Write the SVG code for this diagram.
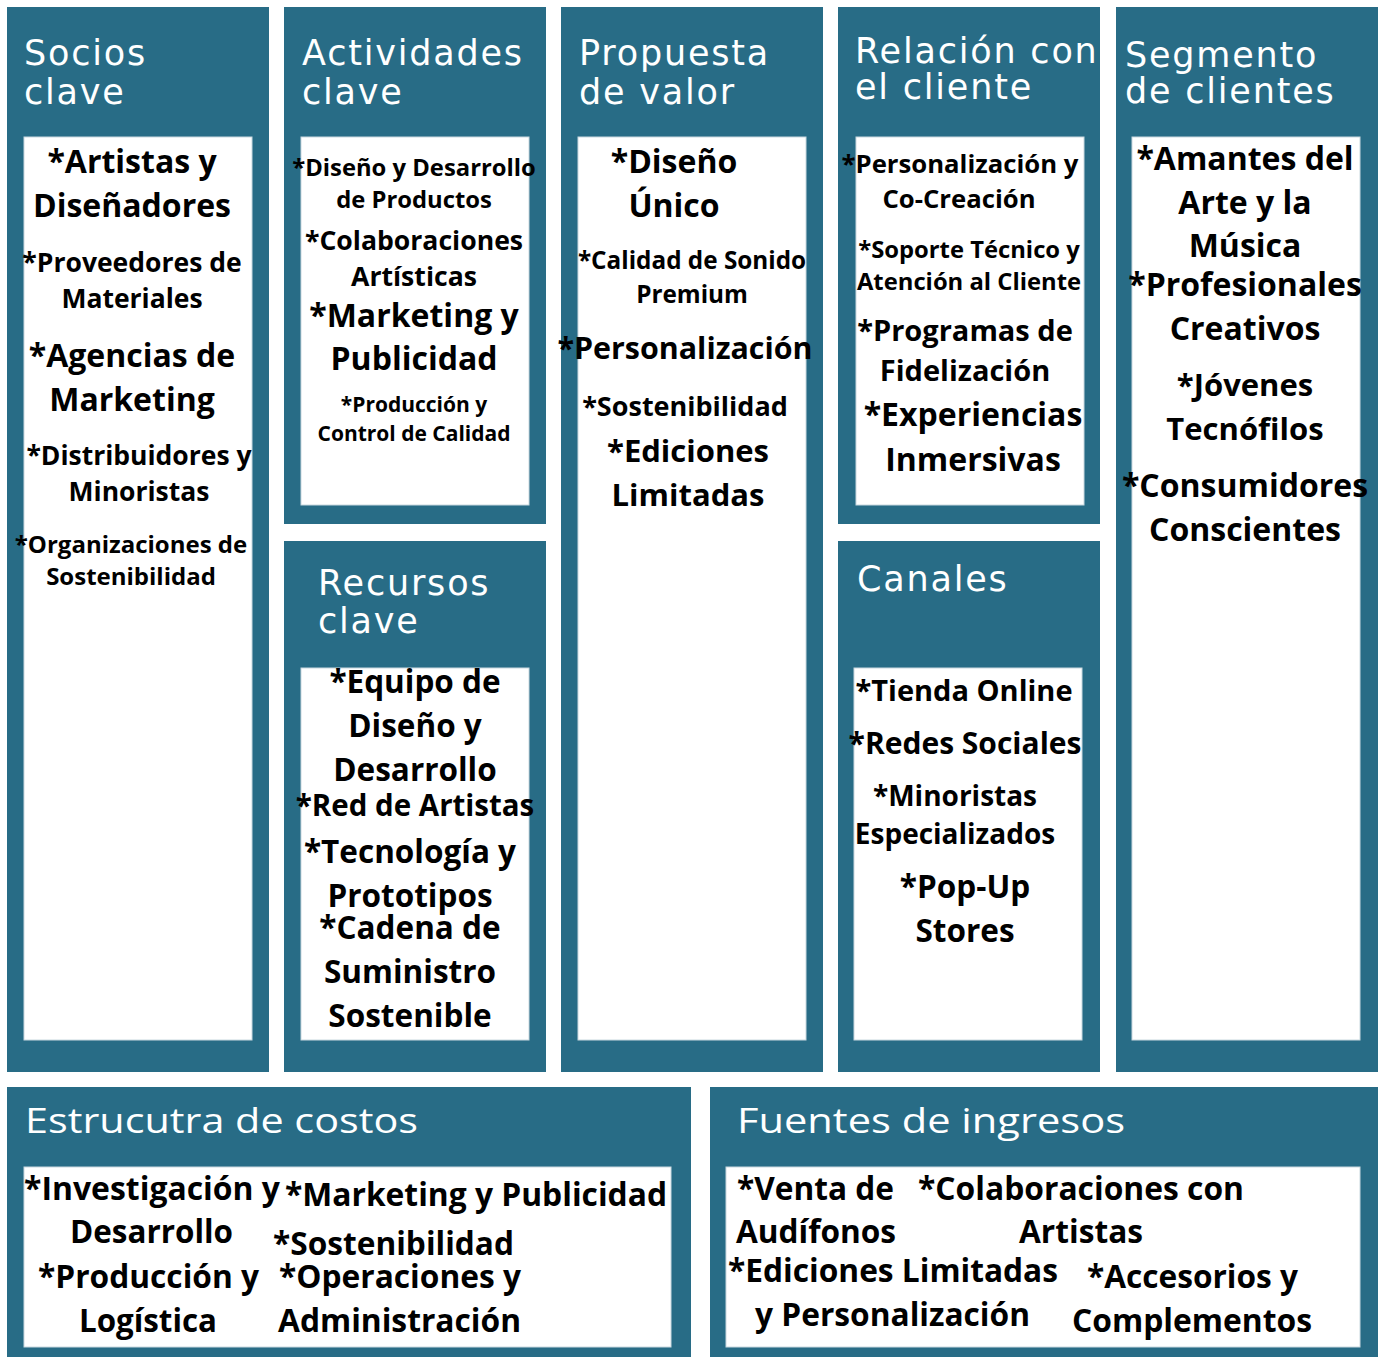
<svg xmlns="http://www.w3.org/2000/svg" width="1386" height="1357" viewBox="0 0 1386 1357">
<style>
.panel{fill:#286c86}
.inner{fill:#ffffff;stroke:#c9d8df;stroke-width:1}
.title{font-family:"DejaVu Sans","Liberation Sans",sans-serif;fill:#ffffff;font-size:35px;letter-spacing:1.8px}
.title2{font-family:"Open Sans","Noto Sans",sans-serif;fill:#ffffff;font-size:35px}
.t{font-family:"Open Sans","Noto Sans",sans-serif;font-weight:700;fill:#000000;text-anchor:middle}
.c{font-family:"Open Sans","Noto Sans",sans-serif;font-weight:700;fill:#000000}
</style>
<rect width="1386" height="1357" fill="#ffffff"/>

<g id="socios-clave">
<rect class="panel" x="7" y="7" width="262" height="1065"/>
<rect class="inner" x="24" y="137" width="228" height="903"/>
<text class="title" x="24" y="65">Socios</text>
<text class="title" x="24" y="104">clave</text>
<text class="t" x="132" y="173" font-size="32">*Artistas y</text>
<text class="t" x="132" y="217" font-size="32">Diseñadores</text>
<text class="t" x="132" y="272" font-size="26.5">*Proveedores de</text>
<text class="t" x="132" y="308" font-size="26.5">Materiales</text>
<text class="t" x="132" y="367" font-size="32">*Agencias de</text>
<text class="t" x="132" y="411" font-size="32">Marketing</text>
<text class="t" x="139" y="465" font-size="26.5">*Distribuidores y</text>
<text class="t" x="139" y="501" font-size="26.5">Minoristas</text>
<text class="t" x="131" y="553" font-size="24">*Organizaciones de</text>
<text class="t" x="131" y="585" font-size="24">Sostenibilidad</text>
</g>

<g id="actividades-clave">
<rect class="panel" x="284" y="7" width="262" height="517"/>
<rect class="inner" x="301" y="137" width="228" height="368"/>
<text class="title" x="302" y="65">Actividades</text>
<text class="title" x="302" y="104">clave</text>
<text class="t" x="414" y="176" font-size="23.8">*Diseño y Desarrollo</text>
<text class="t" x="414" y="208" font-size="23.8">de Productos</text>
<text class="t" x="414" y="250" font-size="26.6">*Colaboraciones</text>
<text class="t" x="414" y="286" font-size="26.6">Artísticas</text>
<text class="t" x="414" y="327" font-size="32">*Marketing y</text>
<text class="t" x="414" y="370" font-size="32">Publicidad</text>
<text class="t" x="414" y="412" font-size="21">*Producción y</text>
<text class="t" x="414" y="441" font-size="21">Control de Calidad</text>
</g>

<g id="recursos-clave">
<rect class="panel" x="284" y="541" width="262" height="531"/>
<rect class="inner" x="301" y="668" width="228" height="372"/>
<text class="title" x="318" y="595">Recursos</text>
<text class="title" x="318" y="633">clave</text>
<text class="t" x="415" y="693" font-size="31.5">*Equipo de</text>
<text class="t" x="415" y="737" font-size="31.5">Diseño y</text>
<text class="t" x="415" y="781" font-size="31.5">Desarrollo</text>
<text class="t" x="415" y="816" font-size="29.5">*Red de Artistas</text>
<text class="t" x="410" y="863" font-size="31.5">*Tecnología y</text>
<text class="t" x="410" y="907" font-size="31.5">Prototipos</text>
<text class="t" x="410" y="939" font-size="31.5">*Cadena de</text>
<text class="t" x="410" y="983" font-size="31.5">Suministro</text>
<text class="t" x="410" y="1027" font-size="31.5">Sostenible</text>
</g>

<g id="propuesta-de-valor">
<rect class="panel" x="561" y="7" width="262" height="1065"/>
<rect class="inner" x="578" y="137" width="228" height="903"/>
<text class="title" x="579" y="65">Propuesta</text>
<text class="title" x="579" y="104">de valor</text>
<text class="t" x="674" y="173" font-size="32">*Diseño</text>
<text class="t" x="674" y="217" font-size="32">Único</text>
<text class="t" x="692" y="269" font-size="24.3">*Calidad de Sonido</text>
<text class="t" x="692" y="303" font-size="24.3">Premium</text>
<text class="t" x="685" y="359" font-size="30.4">*Personalización</text>
<text class="t" x="685" y="416" font-size="27">*Sostenibilidad</text>
<text class="t" x="688" y="462" font-size="31">*Ediciones</text>
<text class="t" x="688" y="506" font-size="31">Limitadas</text>
</g>

<g id="relacion-con-el-cliente">
<rect class="panel" x="838" y="7" width="262" height="517"/>
<rect class="inner" x="856" y="137" width="228" height="368"/>
<text class="title" x="855" y="63" font-size="32.5" letter-spacing="1.3">Relación con</text>
<text class="title" x="855" y="99" font-size="32.5" letter-spacing="1.3">el cliente</text>
<text class="t" x="960" y="173" font-size="25.7">*Personalización y</text>
<text class="t" x="959" y="208" font-size="25.7">Co-Creación</text>
<text class="t" x="969" y="258" font-size="23.8">*Soporte Técnico y</text>
<text class="t" x="969" y="290" font-size="23.8">Atención al Cliente</text>
<text class="t" x="965" y="341" font-size="29">*Programas de</text>
<text class="t" x="965" y="381" font-size="29">Fidelización</text>
<text class="t" x="973" y="426" font-size="32">*Experiencias</text>
<text class="t" x="973" y="471" font-size="32">Inmersivas</text>
</g>

<g id="canales">
<rect class="panel" x="838" y="541" width="262" height="531"/>
<rect class="inner" x="854" y="668" width="228" height="372"/>
<text class="title" x="857" y="591">Canales</text>
<text class="t" x="964" y="701" font-size="29">*Tienda Online</text>
<text class="t" x="965" y="754" font-size="30">*Redes Sociales</text>
<text class="t" x="955" y="806" font-size="28">*Minoristas</text>
<text class="t" x="955" y="844" font-size="28">Especializados</text>
<text class="t" x="965" y="898" font-size="31.5">*Pop-Up</text>
<text class="t" x="965" y="942" font-size="31.5">Stores</text>
</g>

<g id="segmento-de-clientes">
<rect class="panel" x="1116" y="7" width="262" height="1065"/>
<rect class="inner" x="1132" y="137" width="228" height="903"/>
<text class="title" x="1125" y="67">Segmento</text>
<text class="title" x="1125" y="103">de clientes</text>
<text class="t" x="1245" y="170" font-size="32">*Amantes del</text>
<text class="t" x="1245" y="214" font-size="32">Arte y la</text>
<text class="t" x="1245" y="257" font-size="32">Música</text>
<text class="t" x="1245" y="296" font-size="32">*Profesionales</text>
<text class="t" x="1245" y="340" font-size="32">Creativos</text>
<text class="t" x="1245" y="396" font-size="31">*Jóvenes</text>
<text class="t" x="1245" y="440" font-size="31">Tecnófilos</text>
<text class="t" x="1245" y="497" font-size="32">*Consumidores</text>
<text class="t" x="1245" y="541" font-size="32">Conscientes</text>
</g>

<g id="estructura-de-costos">
<rect class="panel" x="7" y="1087" width="684" height="270"/>
<rect class="inner" x="24" y="1167" width="647" height="180"/>
<text class="title2" x="25" y="1133" textLength="393" lengthAdjust="spacingAndGlyphs">Estrucutra de costos</text>
<text class="c" x="24" y="1200" font-size="32" textLength="256" lengthAdjust="spacingAndGlyphs">*Investigación y</text>
<text class="c" x="70" y="1243" font-size="32" textLength="163" lengthAdjust="spacingAndGlyphs">Desarrollo</text>
<text class="c" x="38" y="1288" font-size="32" textLength="221" lengthAdjust="spacingAndGlyphs">*Producción y</text>
<text class="c" x="79" y="1332" font-size="32" textLength="138" lengthAdjust="spacingAndGlyphs">Logística</text>
<text class="c" x="285" y="1206" font-size="32" textLength="382" lengthAdjust="spacingAndGlyphs">*Marketing y Publicidad</text>
<text class="c" x="273" y="1255" font-size="32" textLength="241" lengthAdjust="spacingAndGlyphs">*Sostenibilidad</text>
<text class="c" x="279" y="1288" font-size="32" textLength="242" lengthAdjust="spacingAndGlyphs">*Operaciones y</text>
<text class="c" x="278" y="1332" font-size="32" textLength="243" lengthAdjust="spacingAndGlyphs">Administración</text>
</g>

<g id="fuentes-de-ingresos">
<rect class="panel" x="710" y="1087" width="668" height="270"/>
<rect class="inner" x="726" y="1167" width="634" height="180"/>
<text class="title2" x="737" y="1133" textLength="388" lengthAdjust="spacingAndGlyphs">Fuentes de ingresos</text>
<text class="c" x="737" y="1200" font-size="32" textLength="157" lengthAdjust="spacingAndGlyphs">*Venta de</text>
<text class="c" x="736" y="1243" font-size="32" textLength="160" lengthAdjust="spacingAndGlyphs">Audífonos</text>
<text class="c" x="728" y="1282" font-size="32" textLength="330" lengthAdjust="spacingAndGlyphs">*Ediciones Limitadas</text>
<text class="c" x="755" y="1326" font-size="32" textLength="275" lengthAdjust="spacingAndGlyphs">y Personalización</text>
<text class="c" x="918" y="1200" font-size="32" textLength="326" lengthAdjust="spacingAndGlyphs">*Colaboraciones con</text>
<text class="c" x="1019" y="1243" font-size="32" textLength="124" lengthAdjust="spacingAndGlyphs">Artistas</text>
<text class="c" x="1087" y="1288" font-size="32" textLength="211" lengthAdjust="spacingAndGlyphs">*Accesorios y</text>
<text class="c" x="1072" y="1332" font-size="32" textLength="240" lengthAdjust="spacingAndGlyphs">Complementos</text>
</g>

<g id="connectors"></g>
</svg>
